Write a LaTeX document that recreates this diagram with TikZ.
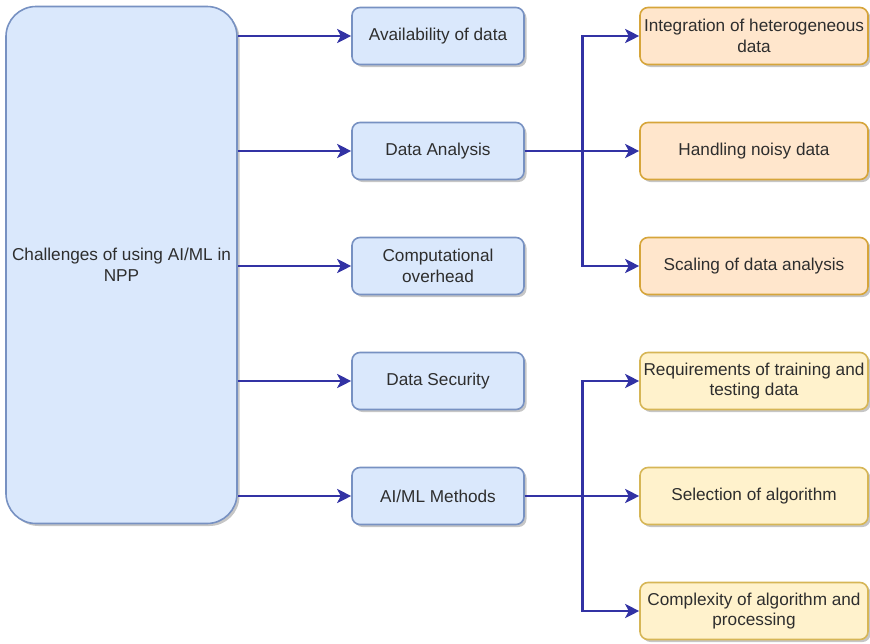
\documentclass[tikz,border=0pt]{standalone}
\usepackage{fontspec}
\setmainfont{Liberation Sans}
\usetikzlibrary{arrows.meta,shadows}

\definecolor{bluefill}{HTML}{DAE8FC}
\definecolor{bluedraw}{HTML}{7791C2}
\definecolor{orangefill}{HTML}{FFE6CC}
\definecolor{orangedraw}{HTML}{D6A53A}
\definecolor{yellowfill}{HTML}{FFF2CC}
\definecolor{yellowdraw}{HTML}{D6B656}
\definecolor{linkcol}{HTML}{3232A4}
\definecolor{txtcol}{HTML}{2E2E2E}

\tikzset{
  boxshadow/.style={drop shadow={shadow xshift=2.5pt, shadow yshift=-2.5pt, fill=black!50, opacity=0.45}},
  basebox/.style={rounded corners=8pt, line width=1.6pt, align=center, inner sep=0pt,
    text=txtcol, font=\fontsize{17.2}{20.5}\selectfont, boxshadow},
  mainbox/.style={basebox, fill=bluefill, draw=bluedraw, minimum width=231pt, minimum height=517pt, rounded corners=30pt},
  midbox/.style={basebox, fill=bluefill, draw=bluedraw, minimum width=172pt, minimum height=57pt},
  orangebox/.style={basebox, fill=orangefill, draw=orangedraw, minimum width=228pt, minimum height=57pt},
  yellowbox/.style={basebox, fill=yellowfill, draw=yellowdraw, minimum width=228pt, minimum height=57pt},
  link/.style={draw=linkcol, line width=2.7pt, -{Stealth[length=14pt,width=14pt,inset=3.5pt]}}
}

\begin{document}
\begin{tikzpicture}[x=1pt,y=-1pt]
  \useasboundingbox (0,0) rectangle (870,643);

  % root
  \node[mainbox] (root) at (121.5,265) {Challenges of using AI/ML in\\NPP};

  % first level
  \node[midbox] (avail) at (438,36)  {Availability of data};
  \node[midbox] (anal)  at (438,151) {Data Analysis};
  \node[midbox] (comp)  at (438,266) {Computational\\overhead};
  \node[midbox] (sec)   at (438,381) {Data Security};
  \node[midbox] (meth)  at (438,496) {AI/ML Methods};

  % second level: data analysis
  \node[orangebox] (integ) at (754,36)  {Integration of heterogeneous\\data};
  \node[orangebox] (noisy) at (754,151) {Handling noisy data};
  \node[orangebox] (scale) at (754,266) {Scaling of data analysis};

  % second level: methods
  \node[yellowbox] (req)  at (754,381) {Requirements of training and\\testing data};
  \node[yellowbox] (sel)  at (754,496) {Selection of algorithm};
  \node[yellowbox] (cplx) at (754,611) {Complexity of algorithm and\\processing};

  % root to first level
  \foreach \n in {avail,anal,comp,sec,meth}
    \draw[link] (root.east |- \n.west) -- (\n.west);

  % branches
  \draw[link] (anal.east) -- ++(58,0) |- (integ.west);
  \draw[link] (anal.east) -- (noisy.west);
  \draw[link] (anal.east) -- ++(58,0) |- (scale.west);

  \draw[link] (meth.east) -- ++(58,0) |- (req.west);
  \draw[link] (meth.east) -- (sel.west);
  \draw[link] (meth.east) -- ++(58,0) |- (cplx.west);
\end{tikzpicture}
\end{document}
